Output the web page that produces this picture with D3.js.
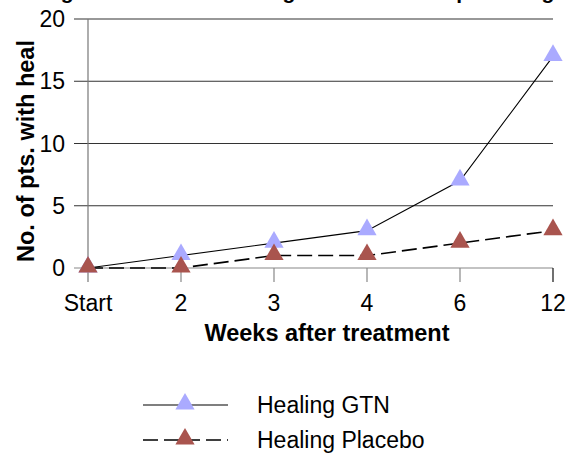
<!DOCTYPE html>
<html>
<head>
<meta charset="utf-8">
<script src="https://cdn.jsdelivr.net/npm/d3@7"></script>
<style>
  body { margin: 0; background: #fff; }
  text { font-family: "Liberation Sans", Arial, sans-serif; }
</style>
</head>
<body>
<svg id="viz" width="579" height="453"></svg>
<script>
// data
const weeks = ["Start", "2", "3", "4", "6", "12"];
const gtn = [0, 1, 2, 3, 7, 17];
const placebo = [0, 0, 1, 1, 2, 3];
const yTicks = [0, 5, 10, 15, 20];
const seriesNames = ["Healing GTN", "Healing Placebo"];

const svg = d3.select("#viz");

const x = d3.scalePoint().domain(weeks).range([88, 553]).padding(0);
const y = d3.scaleLinear().domain([0, 20]).range([268, 19]);

// title, mostly cut off at the top edge (same as the original)
svg.append("text")
  .attr("x", 42).attr("y", -1.5)
  .attr("font-size", 21).attr("font-weight", "bold")
  .text("Fig. 1 Cumulative healing in the GTN and placebo groups");

// horizontal grid lines
svg.append("g")
  .selectAll("line")
  .data(yTicks)
  .join("line")
  .attr("x1", 74).attr("x2", x("12"))
  .attr("y1", d => y(d)).attr("y2", d => y(d))
  .attr("stroke", d => d == 0 ? "#888" : "#333")
  .attr("stroke-width", 1.2);

// y axis line
svg.append("line")
  .attr("x1", x("Start")).attr("x2", x("Start"))
  .attr("y1", y(20)).attr("y2", y(0) + 14)
  .attr("stroke", "#777").attr("stroke-width", 1.2);

// x ticks going down
svg.append("g")
  .selectAll("line")
  .data(weeks.slice(1))
  .join("line")
  .attr("x1", d => x(d)).attr("x2", d => x(d))
  .attr("y1", y(0)).attr("y2", y(0) + 14)
  .attr("stroke", d => d == "12" ? "#111" : "#888")
  .attr("stroke-width", 1.2);

// y tick labels
svg.append("g")
  .selectAll("text")
  .data(yTicks)
  .join("text")
  .attr("x", 65).attr("y", d => y(d) + 8)
  .attr("text-anchor", "end")
  .attr("font-size", 23)
  .text(d => d);

// x tick labels
svg.append("g")
  .selectAll("text")
  .data(weeks)
  .join("text")
  .attr("x", d => x(d)).attr("y", 311)
  .attr("text-anchor", "middle")
  .attr("font-size", 23)
  .text(d => d);

// axis titles
svg.append("text")
  .attr("x", 327).attr("y", 341)
  .attr("text-anchor", "middle")
  .attr("font-size", 23.5).attr("font-weight", "bold")
  .text("Weeks after treatment");

svg.append("text")
  .attr("transform", "translate(34,151) rotate(-90)")
  .attr("text-anchor", "middle")
  .attr("font-size", 23.5).attr("font-weight", "bold")
  .text("No. of pts. with heal");

const line = d3.line().x((d, i) => x(weeks[i])).y(d => y(d));
const tri = d3.symbol().type(d3.symbolTriangle).size(160);

function drawSeries(vals, color, dash) {
  svg.append("path")
    .datum(vals)
    .attr("d", line)
    .attr("fill", "none")
    .attr("stroke", "#000")
    .attr("stroke-width", dash ? 1.6 : 1.1)
    .attr("stroke-dasharray", dash);
  svg.append("g")
    .selectAll("path")
    .data(vals)
    .join("path")
    .attr("d", tri)
    .attr("transform", (d, i) => `translate(${x(weeks[i])},${y(d) - 1})`)
    .attr("fill", color);
}

drawSeries(gtn, "#aaaaff", null);
drawSeries(placebo, "#a9544e", "15,6");

// legend
const legend = svg.append("g");
const legY = [405, 440];
const legColors = ["#aaaaff", "#a9544e"];
const legDash = [null, "15,6"];
seriesNames.forEach((name, i) => {
  legend.append("line")
    .attr("x1", 143).attr("x2", 228)
    .attr("y1", legY[i]).attr("y2", legY[i])
    .attr("stroke", "#000")
    .attr("stroke-width", legDash[i] ? 1.6 : 1.1)
    .attr("stroke-dasharray", legDash[i]);
  legend.append("path")
    .attr("d", tri)
    .attr("transform", `translate(185,${legY[i] - 1})`)
    .attr("fill", legColors[i]);
  legend.append("text")
    .attr("x", 257).attr("y", legY[i] + 8)
    .attr("font-size", 23)
    .text(name);
});
</script>
</body>
</html>
